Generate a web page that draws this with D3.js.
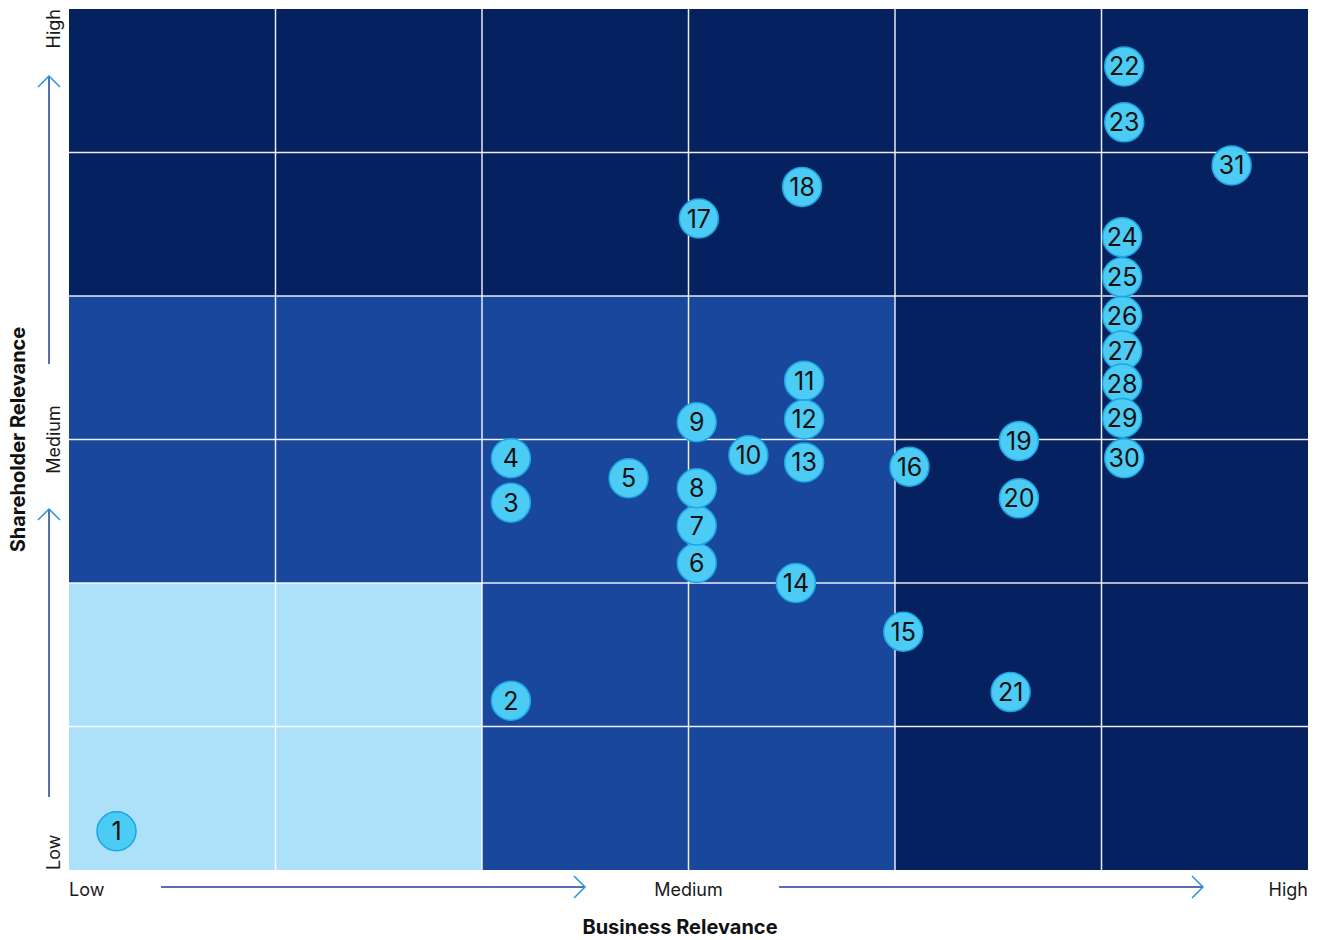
<!DOCTYPE html>
<html>
<head>
<meta charset="utf-8">
<script src="https://cdn.jsdelivr.net/npm/d3@7"></script>
<style>
  html, body { margin: 0; padding: 0; background: #ffffff; }
  svg { display: block; }
  text { font-family: Inter, "Noto Sans", sans-serif; }
</style>
</head>
<body>
<svg id="chart" width="1320" height="940"></svg>
<script>
// Materiality matrix: topics placed by business relevance (x) and shareholder relevance (y)
const topicIds = [1, 2, 3, 4, 5, 6, 7, 8, 9, 10, 11, 12, 13, 14, 15, 16,
                  17, 18, 19, 20, 21, 22, 23, 24, 25, 26, 27, 28, 29, 30, 31];
const businessRelevance = [0.23, 2.14, 2.14, 2.14, 2.71, 3.04, 3.04, 3.04, 3.04, 3.29, 3.56, 3.56, 3.56, 3.52, 4.04, 4.07,
                           3.05, 3.55, 4.60, 4.60, 4.56, 5.11, 5.11, 5.10, 5.10, 5.10, 5.10, 5.10, 5.10, 5.11, 5.63];
const shareholderRelevance = [0.27, 1.18, 2.56, 2.87, 2.73, 2.14, 2.40, 2.66, 3.12, 2.89, 3.41, 3.14, 2.84, 2.00, 1.66, 2.81,
                              4.54, 4.76, 2.99, 2.59, 1.24, 5.60, 5.21, 4.41, 4.13, 3.86, 3.62, 3.39, 3.15, 2.87, 4.91];

// Background zones, one row per grid row from top to bottom (0 = low, 1 = medium, 2 = high priority)
const zoneRows = [
  [2, 2, 2, 2, 2, 2],
  [2, 2, 2, 2, 2, 2],
  [1, 1, 1, 1, 2, 2],
  [1, 1, 1, 1, 2, 2],
  [0, 0, 1, 1, 2, 2],
  [0, 0, 1, 1, 2, 2]
];
const zoneColors = ["#ade1fa", "#19479c", "#05215f"];

const xTickLabels = ["Low", "Medium", "High"];
const yTickLabels = ["Low", "Medium", "High"];
const xTitle = "Business Relevance";
const yTitle = "Shareholder Relevance";

const svg = d3.select("#chart");
const plot = { left: 69, right: 1308, top: 9, bottom: 870 };

const x = d3.scaleLinear().domain([0, 6]).range([plot.left, plot.right]);
const y = d3.scaleLinear().domain([0, 6]).range([plot.bottom, plot.top]);

// Zone cells
const cells = [];
zoneRows.forEach((row, r) => row.forEach((lvl, c) => cells.push({ c, r: 5 - r, lvl })));
svg.append("g").selectAll("rect").data(cells).join("rect")
  .attr("x", d => x(d.c))
  .attr("y", d => y(d.r + 1))
  .attr("width", d => x(d.c + 1) - x(d.c))
  .attr("height", d => y(d.r) - y(d.r + 1))
  .attr("fill", d => zoneColors[d.lvl]);

// Grid lines
const gridVals = d3.range(1, 6);
const grid = svg.append("g").attr("stroke", "#ffffff").attr("stroke-width", 1.5).attr("stroke-opacity", 0.9);
grid.selectAll("line.v").data(gridVals).join("line").attr("class", "v")
  .attr("x1", d => x(d)).attr("x2", d => x(d)).attr("y1", plot.top).attr("y2", plot.bottom);
grid.selectAll("line.h").data(gridVals).join("line").attr("class", "h")
  .attr("y1", d => y(d)).attr("y2", d => y(d)).attr("x1", plot.left).attr("x2", plot.right);

// Axis arrows
const arrowLine = "#1d3f9a", arrowHead = "#2b93dc";
function hArrow(x1, x2, yy) {
  svg.append("line").attr("x1", x1).attr("x2", x2).attr("y1", yy).attr("y2", yy)
    .attr("stroke", arrowLine).attr("stroke-width", 1.5);
  svg.append("path").attr("d", `M${x2 - 11},${yy - 11}L${x2},${yy}L${x2 - 11},${yy + 11}`)
    .attr("fill", "none").attr("stroke", arrowHead).attr("stroke-width", 1.5);
}
function vArrow(y1, y2, xx) {
  svg.append("line").attr("x1", xx).attr("x2", xx).attr("y1", y1).attr("y2", y2)
    .attr("stroke", arrowLine).attr("stroke-width", 1.5);
  svg.append("path").attr("d", `M${xx - 11},${y2 + 11}L${xx},${y2}L${xx + 11},${y2 + 11}`)
    .attr("fill", "none").attr("stroke", arrowHead).attr("stroke-width", 1.5);
}
hArrow(161, 585, 887);
hArrow(779, 1203, 887);
vArrow(797, 509, 49);
vArrow(364, 76, 49);

// Tick labels along the x axis
const xTickPos = [0, 3, 6];
const xAnchors = ["start", "middle", "end"];
svg.append("g").selectAll("text").data(xTickLabels).join("text")
  .attr("x", (d, i) => x(xTickPos[i]))
  .attr("y", 896)
  .attr("text-anchor", (d, i) => xAnchors[i])
  .attr("font-size", 18)
  .attr("fill", "#1a1a1a")
  .text(d => d);

// Tick labels along the y axis (rotated)
const yTickPos = [0, 3, 6];
svg.append("g").selectAll("text").data(yTickLabels).join("text")
  .attr("transform", (d, i) => `translate(60,${y(yTickPos[i])}) rotate(-90)`)
  .attr("text-anchor", (d, i) => xAnchors[i])
  .attr("font-size", 18)
  .attr("fill", "#1a1a1a")
  .text(d => d);

// Axis titles
svg.append("text").attr("x", 680).attr("y", 934).attr("text-anchor", "middle")
  .attr("font-size", 20).attr("font-weight", "bold").attr("fill", "#111")
  .text(xTitle);
svg.append("text").attr("transform", `translate(25,${y(3)}) rotate(-90)`).attr("text-anchor", "middle")
  .attr("font-size", 20).attr("font-weight", "bold").attr("fill", "#111")
  .text(yTitle);

// Topic markers
const topics = topicIds.map((id, i) => ({ id, bx: businessRelevance[i], sy: shareholderRelevance[i] }));
const marks = svg.append("g").selectAll("g").data(topics).join("g")
  .attr("transform", d => `translate(${x(d.bx)},${y(d.sy)})`);
marks.append("circle").attr("r", 19.5)
  .attr("fill", "#4ccbf5").attr("stroke", "#1ba5e2").attr("stroke-width", 1.5);
marks.append("text")
  .attr("text-anchor", "middle")
  .attr("dy", "0.36em")
  .attr("font-size", 25)
  .attr("fill", "#111")
  .text(d => d.id);
</script>
</body>
</html>
